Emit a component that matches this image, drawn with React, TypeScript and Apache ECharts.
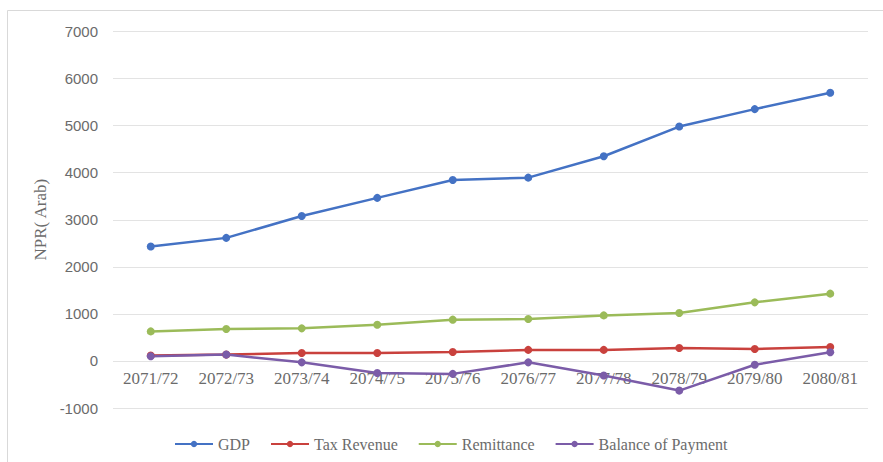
import React, { useEffect, useRef } from "react";
import * as echarts from "echarts";

const categories = ["2071/72", "2072/73", "2073/74", "2074/75", "2075/76", "2076/77", "2077/78", "2078/79", "2079/80", "2080/81"];
const gdp = [2430, 2615, 3080, 3465, 3845, 3895, 4350, 4980, 5350, 5700];
const taxRevenue = [115, 135, 170, 170, 190, 235, 235, 275, 255, 295];
const remittance = [628, 680, 692, 770, 877, 890, 968, 1020, 1245, 1430];
const balanceOfPayment = [100, 135, -30, -255, -275, -30, -310, -630, -80, 185];
const yTicks = { min: -1000, max: 7000, interval: 1000 };

const seriesDefs = [
  { name: "GDP", data: gdp, color: "#4472C4" },
  { name: "Tax Revenue", data: taxRevenue, color: "#C9413D" },
  { name: "Remittance", data: remittance, color: "#9BBB59" },
  { name: "Balance of Payment", data: balanceOfPayment, color: "#7B5CA8" },
];

export default function App() {
  const ref = useRef<HTMLDivElement>(null);
  useEffect(() => {
    document.body.style.margin = "0";
    const chart = echarts.init(ref.current!, null, { renderer: "svg" });
    const serif = "Liberation Serif";
    chart.setOption({
      animation: false,
      backgroundColor: "#ffffff",
      textStyle: { fontFamily: serif },
      graphic: [
        {
          type: "rect",
          shape: { x: 7.5, y: 10.5, width: 900, height: 470 },
          style: { fill: "none", stroke: "#d9d9d9", lineWidth: 1 },
          silent: true,
        },
      ],
      grid: { left: 113, right: 15, top: 31.5, bottom: 54, containLabel: false },
      legend: {
        top: 431,
        left: 169,
        itemWidth: 38,
        itemHeight: 8,
        itemGap: 20,
        textStyle: { fontFamily: serif, fontSize: 16, color: "#6b6b6b" },
        data: seriesDefs.map((s) => s.name),
      },
      xAxis: {
        type: "category",
        data: categories,
        boundaryGap: true,
        offset: -47,
        axisLine: { show: false },
        axisTick: { show: false },
        axisLabel: { fontFamily: serif, fontSize: 17, color: "#6b6b6b", margin: 9, interval: 0 },
      },
      yAxis: {
        type: "value",
        min: yTicks.min,
        max: yTicks.max,
        interval: yTicks.interval,
        name: "NPR( Arab)",
        nameLocation: "middle",
        nameGap: 64,
        nameTextStyle: { fontFamily: serif, fontSize: 17, color: "#6b6b6b" },
        axisLine: { show: false },
        axisTick: { show: false },
        axisLabel: {
          fontFamily: "Liberation Sans",
          fontSize: 15,
          color: "#6b6b6b",
          margin: 15,
          formatter: (v: number) => String(v),
        },
        splitLine: { lineStyle: { color: "#e3e3e3", width: 1 } },
      },
      series: seriesDefs.map((s) => ({
        name: s.name,
        type: "line",
        data: s.data,
        symbol: "circle",
        symbolSize: 8,
        lineStyle: { color: s.color, width: 2.5 },
        itemStyle: { color: s.color },
      })),
    });
    return () => chart.dispose();
  }, []);
  return <div ref={ref} style={{ width: 883, height: 462 }} />;
}
